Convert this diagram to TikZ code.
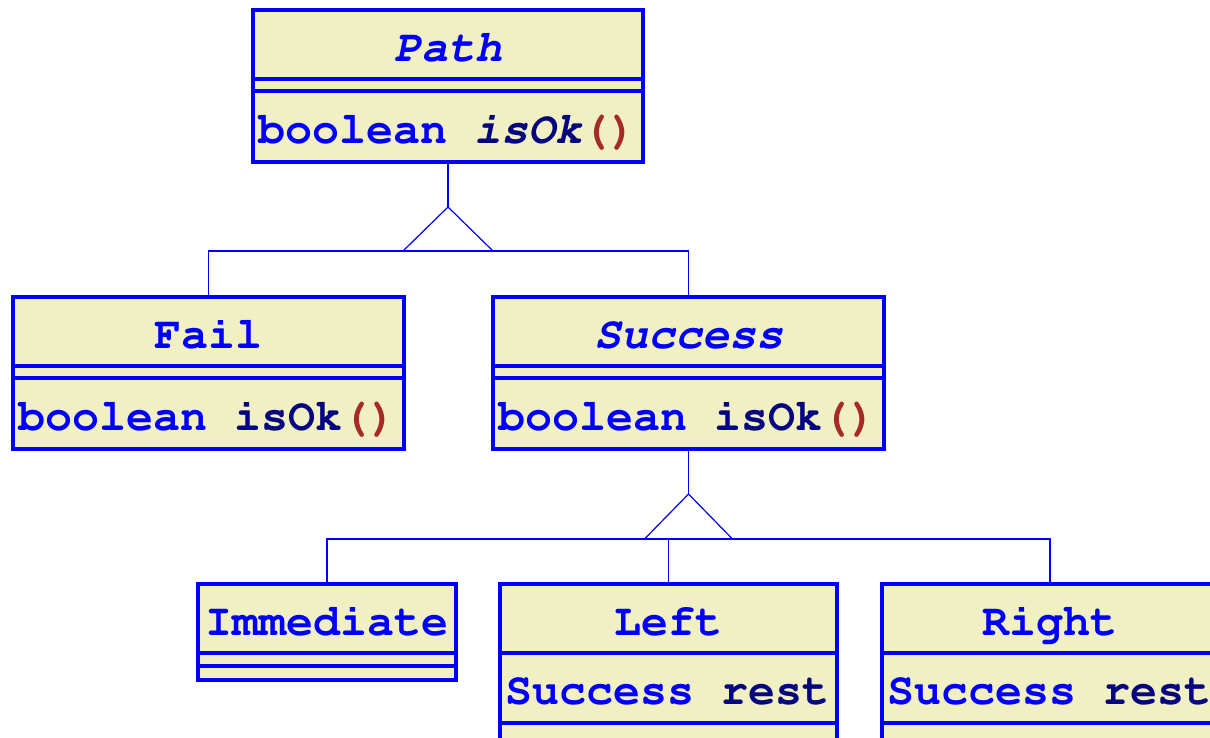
\documentclass[tikz,border=0pt]{standalone}
\usepackage[T1,TU]{fontenc}
\usetikzlibrary{positioning}
\newcommand{\umlfont}{\fontencoding{T1}\fontfamily{pcr}\fontseries{b}\selectfont}
\definecolor{umlblue}{RGB}{0,0,250}
\definecolor{umlnavy}{RGB}{5,5,128}
\definecolor{umlbrown}{RGB}{165,42,42}
\definecolor{umlfill}{RGB}{240,240,194}
\newcommand{\paren}{\textcolor{umlbrown}{()}}

\begin{document}
\begin{tikzpicture}[x=1pt,y=-1pt,
  cell/.style={draw=umlblue, line width=3.4pt, fill=umlfill, outer sep=0pt,
    inner xsep=5pt, inner ysep=0pt, text=umlblue, text height=40pt, text depth=7pt,
    font=\umlfont\fontsize{45}{48}\selectfont,
    execute at begin node={\spaceskip=27pt\relax}},
  namecell/.style={cell, minimum height=69pt, align=center, anchor=north},
  opcell/.style={cell, minimum height=71pt, align=left},
  slot/.style={cell, minimum height=12pt, text height=0pt, text depth=0pt},
  link/.style={draw=umlblue, line width=1.2pt}]
\useasboundingbox (0,0) rectangle (1210,737);
\clip (0,0) rectangle (1210,737);

% Path
\node [namecell, text width=380pt] (path-t) at (448,10) {\itshape Path};
\node [slot, text width=380pt, below=0pt of path-t] (path-a) {};
\node [opcell, text width=380pt, below=0pt of path-a] (path-m)
  {boolean \textcolor{umlnavy}{\itshape isOk}\paren};

% Fail and Success
\node [namecell, text width=381pt] (fail-t) at (208.5,297) {Fail};
\node [slot, text width=381pt, below=0pt of fail-t] (fail-a) {};
\node [opcell, text width=381pt, below=0pt of fail-a] (fail-m)
  {boolean \textcolor{umlnavy}{isOk}\paren};

\node [namecell, text width=381pt] (succ-t) at (688.5,297) {\itshape Success};
\node [slot, text width=381pt, below=0pt of succ-t] (succ-a) {};
\node [opcell, text width=381pt, below=0pt of succ-a] (succ-m)
  {boolean \textcolor{umlnavy}{isOk}\paren};

% Immediate, Left, Right
\node [namecell, text width=248pt] (imm-t) at (327,584) {Immediate};
\node [slot, text width=248pt, minimum height=13pt, below=0pt of imm-t] (imm-a) {};
\node [slot, text width=248pt, minimum height=14pt, below=0pt of imm-a] (imm-m) {};

\node [namecell, text width=327pt] (left-t) at (668.5,584) {Left};
\node [opcell, text width=327pt, minimum height=70pt, below=0pt of left-t] (left-a)
  {Success \textcolor{umlnavy}{rest}};
\node [slot, text width=327pt, minimum height=20pt, below=0pt of left-a] (left-m) {};

\node [namecell, text width=326pt] (right-t) at (1050,584) {Right};
\node [opcell, text width=326pt, minimum height=70pt, below=0pt of right-t] (right-a)
  {Success \textcolor{umlnavy}{rest}};
\node [slot, text width=326pt, minimum height=20pt, below=0pt of right-a] (right-m) {};

% generalisation links
\coordinate [below=45pt of path-m] (tip1);
\draw [link] (path-m) -- (tip1);
\draw [link] (tip1) -- ++(-45,44) coordinate (base1) -- ++(90,0) -- cycle;
\draw [link] (fail-t.north) |- (succ-t.north |- base1) -- (succ-t.north);

\coordinate [below=45pt of succ-m] (tip2);
\draw [link] (succ-m) -- (tip2);
\draw [link] (tip2) -- ++(-44,45) coordinate (base2) -- ++(88,0) -- cycle;
\draw [link] (imm-t.north) |- (right-t.north |- base2) -- (right-t.north);
\draw [link] (left-t.north) -- (left-t.north |- base2);
\end{tikzpicture}
\end{document}
